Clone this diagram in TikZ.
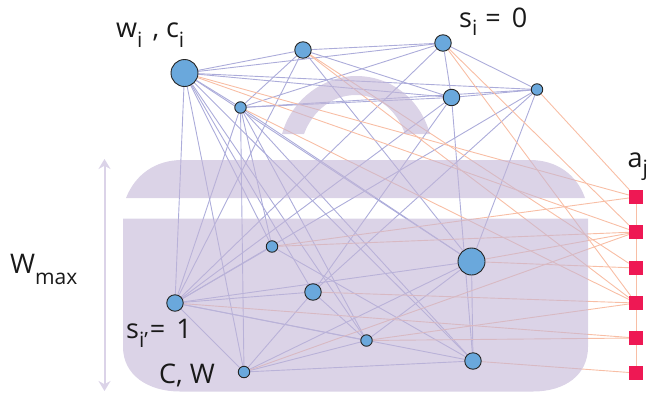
\documentclass[tikz,border=0pt]{standalone}
\usepackage{fontspec}
\setmainfont{Open Sans}
\usetikzlibrary{arrows.meta}
\definecolor{lockc}{RGB}{195,182,215}
\definecolor{lockl}{RGB}{219,211,232}
\definecolor{bluee}{RGB}{172,172,218}
\definecolor{orge}{RGB}{248,190,165}
\definecolor{itemc}{RGB}{106,168,220}
\definecolor{taskc}{RGB}{238,24,84}
\pgfdeclarelayer{edges}
\pgfdeclarelayer{lock}
\pgfsetlayers{edges,lock,main}
\newcommand\subtxt[3]{\raisebox{-#1pt}{\fontsize{#2}{#2}\selectfont #3}}
\tikzset{
 item/.style={circle,draw=black!85,line width=0.9pt,fill=itemc,inner sep=0pt,minimum size=#1},
 task/.style={rectangle,fill=taskc,inner sep=0pt,minimum size=14pt},
 be/.style={draw=bluee,line width=0.9pt},
 oe/.style={draw=orge,line width=0.9pt},
 lockfill/.style={fill=lockc,opacity=0.6},
 lab/.style={inner sep=0pt,text=black!90,font=\fontsize{27}{29}\selectfont,anchor=base west}
}
\begin{document}
\begin{tikzpicture}[x=1pt,y=-1pt]
\useasboundingbox (0,0) rectangle (648,397);
\node[item=27pt] (A) at (184.5,73) {};
\node[item=16.5pt] (B) at (303,50) {};
\node[item=16.5pt] (C) at (443,43) {};
\node[item=11.5pt] (D) at (240.5,107.5) {};
\node[item=16.5pt] (E) at (451.5,97.5) {};
\node[item=11.5pt] (F) at (537,89.5) {};
\node[item=27pt] (G) at (471.5,261.5) {};
\node[item=11.5pt] (H) at (272,246.5) {};
\node[item=16.5pt] (I) at (175,303) {};
\node[item=16.5pt] (J) at (313,292) {};
\node[item=11.5pt] (K) at (366.5,340.5) {};
\node[item=16.5pt] (L) at (473,361) {};
\node[item=11.5pt] (M) at (244,372) {};
\node[task] (T1) at (636,197) {};
\node[task] (T2) at (636,232) {};
\node[task] (T3) at (636,268) {};
\node[task] (T4) at (636,303) {};
\node[task] (T5) at (636,338) {};
\node[task] (T6) at (636,373) {};
\begin{pgfonlayer}{edges}
\foreach \a/\b in {A/B,A/C,A/D,A/E,A/F,A/I,A/H,A/J,A/K,A/L,A/M,A/G,
  B/C,B/D,B/E,B/I,B/G,
  C/D,C/E,C/F,C/I,
  D/E,D/F,D/I,D/H,D/K,D/L,D/M,D/G,
  E/F,E/L,E/I,E/J,
  F/I,F/J,F/G,
  G/L,G/I,G/K,G/M,
  H/I,H/L,
  I/J,I/K,I/L,I/M,
  J/K,J/M,
  K/M,
  L/M}
  \draw[be] (\a) -- (\b);
\foreach \a/\b in {A/T1,A/T2,B/T3,B/T4,C/T2,C/T4,D/T4,F/T1,
  H/T1,H/T2,I/T5,J/T4,K/T4,K/T5,G/T2,G/T3,L/T6,M/T2,
  T1/T2,T2/T3,T3/T4,T4/T5,T5/T6}
  \draw[oe] (\a) -- (\b);
\end{pgfonlayer}
\begin{pgfonlayer}{lock}
\fill[lockfill] (126,198) .. controls (135,175) and (155,160) .. (182,160) -- (530,160) .. controls (557,160) and (577,175) .. (585,198) -- cycle;
\fill[lockfill] (123,218.5) -- (588,218.5) -- (588,347) .. controls (588,375) and (565,391.5) .. (533,391.5) -- (180,391.5) .. controls (148,391.5) and (123,375) .. (123,347) -- cycle;
\fill[lockfill] (282,134) .. controls (292,98) and (325,76) .. (356,76) .. controls (390,76) and (420,98) .. (430,134) -- (405,134) .. controls (397,110) and (378,95) .. (356,95) .. controls (333,95) and (313,110) .. (304,134) -- cycle;
\end{pgfonlayer}
\draw[lockl,line width=2pt,{Stealth[length=10pt,width=12pt]}-{Stealth[length=10pt,width=12pt]}] (104.5,159) -- (104.5,391);
\node[lab] (t1) at (116,37) {w\subtxt{10}{21}{i}\hspace{10pt}, c\subtxt{10}{21}{i}};
\node[lab] (t2) at (459,27) {s\subtxt{8}{21}{i}\hspace{8pt}=\hspace{4pt} 0};
\node[lab] (t3) at (627.5,167) {a\subtxt{8}{21}{j}};
\node[lab] (t4) at (10,273) {W\subtxt{11}{21}{max}};
\node[lab] (t5) at (126,338) {s\subtxt{9}{21}{i’}\hspace{2pt}=\hspace{4pt} 1};
\node[lab] (t6) at (159,383) {C, W};
\end{tikzpicture}
\end{document}
